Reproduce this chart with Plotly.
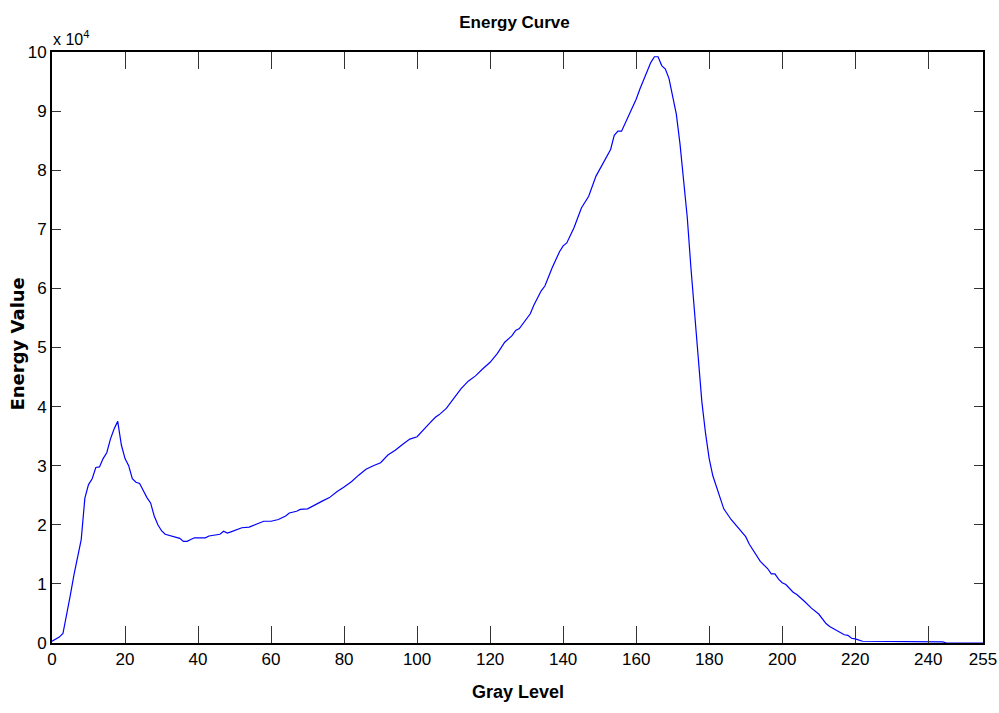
import plotly.graph_objects as go

# Energy per gray level (values in units of 10^4)
gray_level = [
    0, 1, 2, 3, 4, 5, 6, 7, 8, 9, 10, 11, 12, 13, 14, 15, 16, 17, 18, 19,
    20, 21, 22, 23, 24, 25, 26, 27, 28, 29, 30, 31, 32, 33, 34, 35, 36, 37,
    38, 39, 40, 42, 43, 45, 46, 47, 48, 49, 50, 52, 54, 56, 58, 60, 62, 64,
    65, 67, 68, 70, 72, 74, 76, 78, 80, 82, 84, 86, 88, 90, 92, 94, 96, 98,
    100, 101, 103, 105, 106, 108, 110, 112, 114, 116, 118, 120, 122, 124,
    126, 127, 128, 130, 131, 132, 134, 135, 137, 139, 140, 141, 143, 145,
    147, 149, 151, 153, 154, 155, 156, 158, 160, 161, 162, 164, 165, 166,
    167, 168, 169, 170, 171, 172, 173, 174, 175, 176, 177, 178, 179, 180,
    181, 182, 183, 184, 186, 188, 190, 191, 192, 194, 196, 197, 198, 199,
    200, 201, 203, 204, 206, 208, 210, 211, 212, 213, 215, 217, 218, 219,
    220, 221, 222, 244, 245, 255,
]
energy_e4 = [
    0.03, 0.06, 0.10, 0.16, 0.45, 0.80, 1.15, 1.45, 1.75, 2.45, 2.68, 2.78,
    2.97, 2.98, 3.12, 3.22, 3.45, 3.62, 3.75, 3.35, 3.12, 3.00, 2.78, 2.72,
    2.70, 2.58, 2.46, 2.37, 2.15, 2.00, 1.90, 1.84, 1.82, 1.80, 1.78, 1.77,
    1.72, 1.72, 1.75, 1.78, 1.78, 1.78, 1.81, 1.83, 1.84, 1.89, 1.86, 1.88,
    1.90, 1.95, 1.96, 2.01, 2.06, 2.06, 2.09, 2.15, 2.20, 2.23, 2.26, 2.27,
    2.34, 2.40, 2.46, 2.56, 2.64, 2.73, 2.84, 2.94, 3.00, 3.05, 3.18, 3.26,
    3.36, 3.45, 3.49, 3.56, 3.69, 3.82, 3.86, 3.97, 4.13, 4.30, 4.43, 4.52,
    4.64, 4.75, 4.90, 5.09, 5.20, 5.29, 5.32, 5.48, 5.57, 5.72, 5.96, 6.04,
    6.35, 6.62, 6.72, 6.77, 7.03, 7.36, 7.56, 7.90, 8.12, 8.35, 8.59, 8.66,
    8.66, 8.92, 9.20, 9.37, 9.52, 9.82, 9.92, 9.92, 9.77, 9.71, 9.55, 9.27,
    8.95, 8.45, 7.85, 7.20, 6.35, 5.55, 4.85, 4.08, 3.55, 3.12, 2.83, 2.64,
    2.45, 2.27, 2.09, 1.94, 1.80, 1.67, 1.57, 1.38, 1.26, 1.17, 1.17, 1.08,
    1.02, 0.99, 0.86, 0.82, 0.71, 0.59, 0.49, 0.40, 0.33, 0.28, 0.21, 0.14,
    0.13, 0.08, 0.07, 0.05, 0.03, 0.02, 0.0, 0.0,
]

x_ticks = [0, 20, 40, 60, 80, 100, 120, 140, 160, 180, 200, 220, 240, 255]
y_ticks = [0, 1, 2, 3, 4, 5, 6, 7, 8, 9, 10]

FONT = "Liberation Sans Narrow, Arial Narrow, Liberation Sans, Arial, sans-serif"
WIDE = "DejaVu Sans, Verdana, sans-serif"

fig = go.Figure()
fig.add_trace(go.Scatter(
    x=gray_level, y=energy_e4, mode="lines",
    line=dict(color="#0000ff", width=1.2),
    showlegend=False, hoverinfo="skip",
))

fig.update_layout(
    width=999, height=713,
    margin=dict(l=52, r=16, t=52, b=70, autoexpand=False),
    paper_bgcolor="white", plot_bgcolor="white",
    title=dict(
        text="<b>Energy Curve</b>", x=0.515, xanchor="center",
        y=0.969, yanchor="middle",
        font=dict(family=FONT, size=17, color="black"),
    ),
    xaxis=dict(
        range=[0, 255], tickvals=x_ticks, ticktext=[str(t) for t in x_ticks],
        ticks="inside", ticklen=17, tickwidth=1, tickcolor="#333",
        showline=True, linecolor="black", linewidth=2, mirror="ticks",
        showgrid=False, zeroline=False, automargin=False,
        tickfont=dict(family=FONT, size=17, color="black"),
    ),
    yaxis=dict(
        range=[0, 10], tickvals=y_ticks, ticktext=[str(t) for t in y_ticks],
        ticks="inside", ticklen=9, tickwidth=1, tickcolor="#333",
        showline=True, linecolor="black", linewidth=2, mirror="ticks",
        showgrid=False, zeroline=False, automargin=False,
        tickfont=dict(family=FONT, size=17, color="black"),
    ),
)

# axis titles
fig.add_annotation(
    x=0.5, y=0, xref="paper", yref="paper", xanchor="center", yanchor="middle",
    yshift=-49, showarrow=False, text="<b>Gray Level</b>",
    font=dict(family=FONT, size=18, color="black"),
)
fig.add_annotation(
    x=0, y=0.505, xref="paper", yref="paper", xanchor="center",
    yanchor="middle", xshift=-34, showarrow=False, textangle=-90,
    text="<b>Energy Value</b>",
    font=dict(family=WIDE, size=18, color="black"),
)

# exponent label for the y axis
fig.add_annotation(
    x=0, y=1, xref="paper", yref="paper", xanchor="left", yanchor="bottom",
    xshift=-1, yshift=2, showarrow=False,
    text="x 10<sup>4</sup>",
    font=dict(family=FONT, size=16, color="black"),
)

fig.write_html("out.html")
